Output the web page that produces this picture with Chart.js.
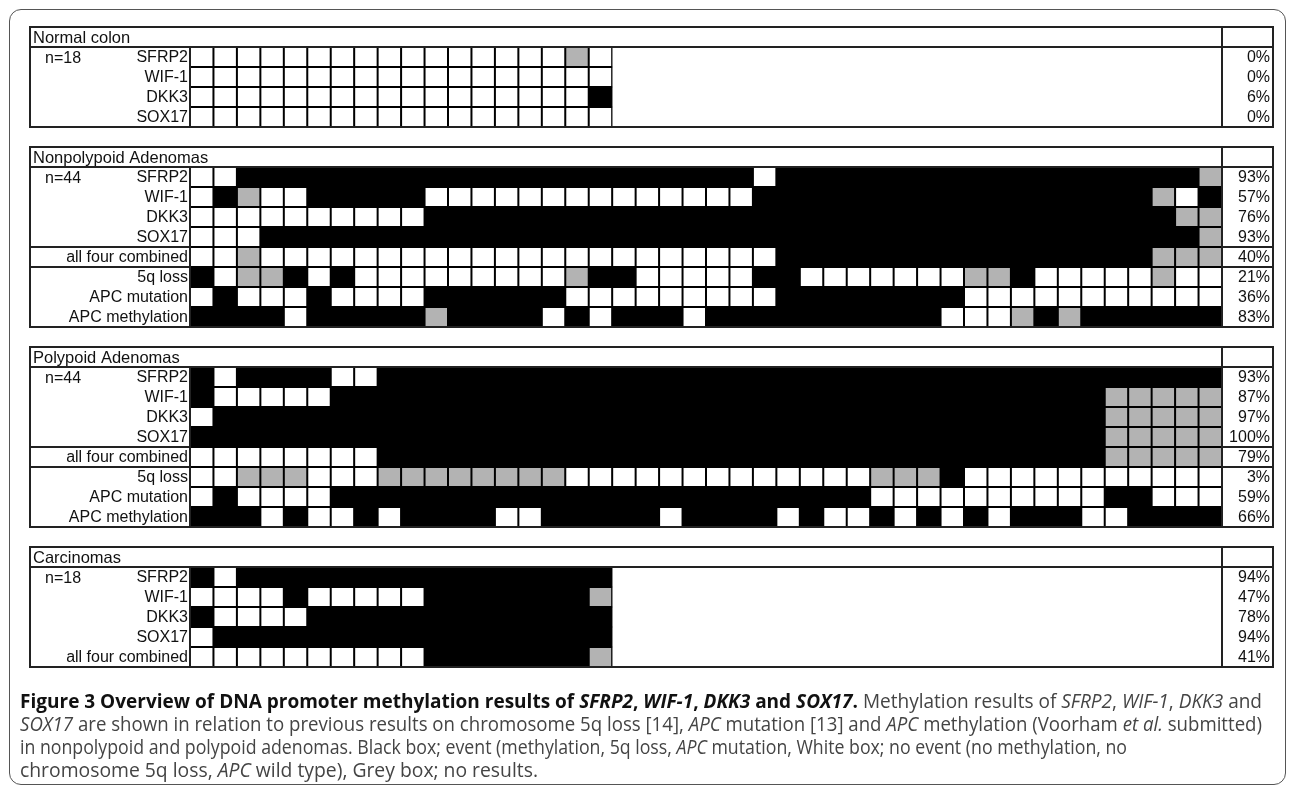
<!DOCTYPE html>
<html>
<head>
<meta charset="utf-8">
<script src="https://cdn.jsdelivr.net/npm/chart.js@4.4.1/dist/chart.umd.min.js"></script>
<style>
    html, body { margin: 0; padding: 0; background: #fff; }
    body { width: 1290px; height: 795px; position: relative; overflow: hidden; }
    #frame { position: absolute; left: 9px; top: 9px; width: 1277px; height: 776px; border: 1.5px solid #555; border-radius: 12px; box-sizing: border-box; }
    #c1 { position: absolute; left: 0; top: 0; }
    #caption { position: absolute; left: 20px; top: 689px; font-family: "Open Sans", sans-serif; font-size: 20px; line-height: 23px; color: #444; }
    #caption div { white-space: nowrap; width: max-content; transform-origin: 0 0; }
    #caption b { color: #111; }
</style>
</head>
<body>
<div id="frame"></div>
<canvas id="c1" width="1290" height="795"></canvas>
<div id="caption">
    <div><b>Figure 3 Overview of DNA promoter methylation results of <i>SFRP2</i>, <i>WIF-1</i>, <i>DKK3</i> and <i>SOX17</i>.</b> Methylation results of <i>SFRP2</i>, <i>WIF-1</i>, <i>DKK3</i> and</div>
    <div><i>SOX17</i> are shown in relation to previous results on chromosome 5q loss [14], <i>APC</i> mutation [13] and <i>APC</i> methylation (Voorham <i>et al.</i> submitted)</div>
    <div>in nonpolypoid and polypoid adenomas. Black box; event (methylation, 5q loss, <i>APC</i> mutation, White box; no event (no methylation, no</div>
    <div>chromosome 5q loss, <i>APC</i> wild type), Grey box; no results.</div>
</div>
<script>
// B = event (black), W = no event (white), G = no result (grey)
var cellIds = ["1","2","3","4","5","6","7","8","9","10","11","12","13","14","15","16","17","18","19","20","21","22",
               "23","24","25","26","27","28","29","30","31","32","33","34","35","36","37","38","39","40","41","42","43","44"];

var geneRows = ["SFRP2", "WIF-1", "DKK3", "SOX17"];
var adenomaRows = ["SFRP2", "WIF-1", "DKK3", "SOX17", "all four combined", "5q loss", "APC mutation", "APC methylation"];
var carcRows = ["SFRP2", "WIF-1", "DKK3", "SOX17", "all four combined"];

var normalCells = [
    "WWWWWWWWWWWWWWWWGW",
    "WWWWWWWWWWWWWWWWWW",
    "WWWWWWWWWWWWWWWWWB",
    "WWWWWWWWWWWWWWWWWW"
];
var normalPct = ["0%", "0%", "6%", "0%"];

var nonpolyCells = [
    "WW BBBBBBBBBB BBBBBBBBBB BB W BBBBBBBBBB BBBBBBBB G",
    "WBGWW BBBBB WWWWWWWWWW WWWW BBBBBBBBBB BBBBBBB GWB",
    "WWWWWWWWWW BBBBBBBBBB BBBBBBBBBB BBBBBBBBBB BB GG",
    "WWW BBBBBBBBBB BBBBBBBBBB BBBBBBBBBB BBBBBBBBBB G",
    "WWG WWWWWWWWWW WWWWWWWWWW WW BBBBBBBBBB BBBBBB GGG",
    "BWGGBWB WWWWWWWWW G BB WWWWW BB WWWWWWW GG B WWWWW G WW",
    "WBWWWBWWWW BBBBBB WWWWWWWWW BBBBBBBB WWWWWWWWWWW",
    "BBBBWBBBBBG BBBB W B W BBB W BBBBBBBBBB WWW G B G BBBBBB"
];
var nonpolyPct = ["93%", "57%", "76%", "93%", "40%", "21%", "36%", "83%"];

var polyCells = [
    "BWBBBBWW BBBBBBBBBB BBBBBBBBBB BBBBBBBBBB BBBBBB",
    "BWWWWW BBBBBBBBBB BBBBBBBBBB BBBBBBBBBB BBB GGGGG",
    "W BBBBBBBBBB BBBBBBBBBB BBBBBBBBBB BBBBBBBB GGGGG",
    "BBBBBBBBBB BBBBBBBBBB BBBBBBBBBB BBBBBBBBB GGGGG",
    "WWWWWWWW BBBBBBBBBB BBBBBBBBBB BBBBBBBBBB B GGGGG",
    "WWGGGWWW GGGGGGGG WWWWWWWWWWWWW GGG B WWWWWWWWWWW",
    "WBWWWW BBBBBBBBBB BBBBBBBBBB BBB WWWWWWWWWW BB WWW",
    "BBBW BWWB WBBB BWWB BBBB WBBB BWBW WBWB WBWB BBWW BBBB"
];
var polyPct = ["93%", "87%", "97%", "100%", "79%", "3%", "59%", "66%"];

var carcCells = [
    "BW BBBBBBBBBBBBBBBB",
    "WWWWBWWWWW BBBBBBB G",
    "BWWWW BBBBBBBBBBBBB",
    "W BBBBBBBBBBBBBBBBB",
    "WWWWWWWWWW BBBBBBB G"
];
var carcPct = ["94%", "47%", "78%", "94%", "41%"];

var panels = [
    {title: "Normal colon", n: "n=18", rows: geneRows, cells: normalCells, pct: normalPct, breaks: []},
    {title: "Nonpolypoid Adenomas", n: "n=44", rows: adenomaRows, cells: nonpolyCells, pct: nonpolyPct, breaks: [4, 5]},
    {title: "Polypoid Adenomas", n: "n=44", rows: adenomaRows, cells: polyCells, pct: polyPct, breaks: [4, 5]},
    {title: "Carcinomas", n: "n=18", rows: carcRows, cells: carcCells, pct: carcPct, breaks: []}
];

var colors = {B: "#000000", W: "#ffffff", G: "#b3b3b3"};

// one unit = one row; title row + data rows + one empty row between panels
var datasets = [];
var unit = 0;
panels.forEach((p) => {
    p.top = unit;
    p.rows.forEach((name, r) => {
        let codes = p.cells[r].replace(/\s/g, "").split("");
        if(codes.length != 18 && codes.length != 44)
            console.warn(p.title + " " + name + ": " + codes.length + " cells");
        let y0 = p.top + 1 + r;
        datasets.push({
            label: p.title + " " + name,
            data: codes.map(() => [y0, y0 + 1]),
            backgroundColor: codes.map((c) => colors[c])
        });
    });
    unit += p.rows.length + 2;
});
var totalUnits = unit - 1;

var framePlugin = {
    id: "frame",
    afterDatasetsDraw(chart) {
        let ctx = chart.ctx;
        let ca = chart.chartArea;
        let ys = chart.scales.y;
        let L = 30, C = ca.left, P = Math.round(ca.right), R = 1273;

        ctx.save();
        ctx.strokeStyle = "#222";
        ctx.lineWidth = 2;
        ctx.fillStyle = "#111";
        ctx.textBaseline = "middle";

        panels.forEach((p) => {
            let yTop = ys.getPixelForValue(p.top);
            let yHead = ys.getPixelForValue(p.top + 1);
            let yBot = ys.getPixelForValue(p.top + 1 + p.rows.length);
            let rowH = yHead - yTop;

            ctx.strokeRect(L, yTop, R - L, yBot - yTop);
            ctx.beginPath();
            ctx.moveTo(L, yHead); ctx.lineTo(R, yHead);
            ctx.moveTo(C, yHead); ctx.lineTo(C, yBot);
            ctx.moveTo(P, yTop); ctx.lineTo(P, yBot);
            p.breaks.forEach((b) => {
                let y = ys.getPixelForValue(p.top + 1 + b);
                ctx.moveTo(L, y); ctx.lineTo(C, y);
                ctx.moveTo(P, y); ctx.lineTo(R, y);
            });
            ctx.stroke();

            ctx.font = "16.5px 'Liberation Sans', Arial, sans-serif";
            ctx.textAlign = "left";
            ctx.fillText(p.title, L + 3, yTop + rowH / 2 + 1);

            ctx.font = "16px 'Liberation Sans', Arial, sans-serif";
            ctx.fillText(p.n, L + 15, yHead + rowH / 2 + 2);

            ctx.textAlign = "right";
            p.rows.forEach((name, r) => {
                let yc = ys.getPixelForValue(p.top + 1.5 + r) + 1;
                ctx.fillText(name, C - 2, yc);
                ctx.fillText(p.pct[r], R - 3, yc);
            });
        });
        ctx.restore();
    }
};

var chart1 = new Chart(document.getElementById("c1"), {
    type: "bar",
    data: {labels: cellIds, datasets: datasets},
    options: {
        responsive: false,
        animation: false,
        devicePixelRatio: 1,
        layout: {padding: {left: 190, right: 68, top: 27, bottom: 795 - 27 - totalUnits * 20}},
        plugins: {legend: {display: false}, tooltip: {enabled: false}},
        datasets: {
            bar: {
                grouped: false,
                barPercentage: 1,
                categoryPercentage: 1,
                borderWidth: 1.5,
                borderColor: "#000",
                borderSkipped: false,
                inflateAmount: 0.5
            }
        },
        scales: {
            x: {display: false, offset: true},
            y: {display: false, min: 0, max: totalUnits, reverse: true}
        }
    },
    plugins: [framePlugin]
});

// squeeze each caption line to its printed width
function fitCaption() {
    let lines = document.querySelectorAll("#caption div");
    let widths = [1242, 1242, 1107, 518];
    lines.forEach((line, i) => {
        let s = widths[i] / line.getBoundingClientRect().width;
        line.style.transform = "scaleX(" + s + ")";
    });
}
if(document.fonts && document.fonts.ready)
    document.fonts.ready.then(fitCaption);
else
    fitCaption();
</script>
</body>
</html>
